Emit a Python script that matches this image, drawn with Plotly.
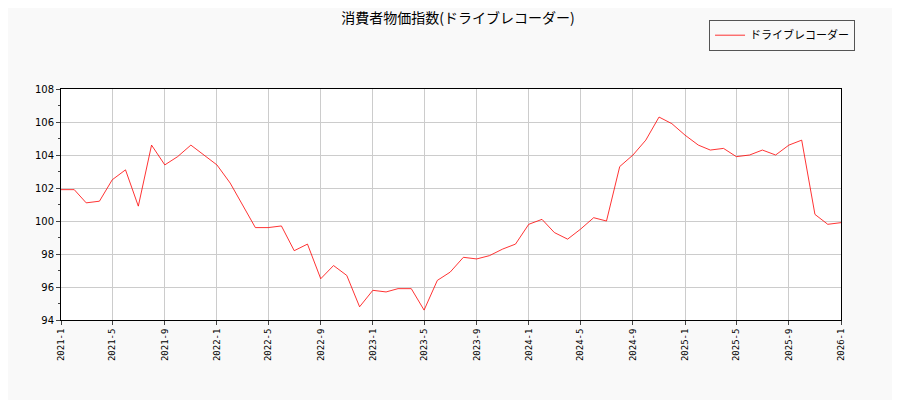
import plotly.graph_objects as go
import pandas as pd

# monthly index values, 2021-1 .. 2026-1
months = pd.date_range("2021-01-01", "2026-01-01", freq="MS")
values = [
    101.9, 101.9, 101.1, 101.2, 102.5, 103.1, 100.9, 104.6, 103.4, 103.9, 104.6, 104.0,
    103.4, 102.3, 101.0, 99.6, 99.6, 99.7, 98.2, 98.6, 96.5, 97.3, 96.7, 94.8,
    95.8, 95.7, 95.9, 95.9, 94.6, 96.4, 96.9, 97.8, 97.7, 97.9, 98.3, 98.6,
    99.8, 100.1, 99.3, 98.9, 99.5, 100.2, 100.0, 103.3, 104.0, 104.9, 106.3, 105.9,
    105.2, 104.6, 104.3, 104.4, 103.9, 104.0, 104.3, 104.0, 104.6, 104.9, 100.4, 99.8,
    99.9,
]
tick_dates = months[::4]
tick_labels = [f"{d.year}-{d.month}" for d in tick_dates]

font = "DejaVu Sans, Noto Sans CJK JP"

fig = go.Figure()
fig.add_trace(
    go.Scatter(
        x=months, y=values, mode="lines", name="ドライブレコーダー",
        line=dict(color="red", width=0.8),
    )
)

fig.update_layout(
    width=900, height=400,
    paper_bgcolor="#f9f9f9", plot_bgcolor="white",
    margin=dict(l=53, r=67, t=72, b=88),
    font=dict(family=font, size=10, color="black"),
    title=dict(text="消費者物価指数(ドライブレコーダー)", x=0.5, y=0.975,
               xanchor="center", yanchor="middle",
               font=dict(size=14, family="Noto Sans CJK JP")),
    showlegend=True,
    legend=dict(x=1.018, y=1.3, xanchor="right", yanchor="top",
                bgcolor="#f9f9f9", bordercolor="#555", borderwidth=1,
                font=dict(size=11, family="Noto Sans CJK JP")),
    xaxis=dict(
        range=[months[0], months[-1]], tickvals=tick_dates, ticktext=tick_labels,
        tickangle=-90, showgrid=True, gridcolor="#cccccc", ticks="outside",
        ticklen=4, showline=True, linecolor="black", mirror=True,
        tickfont=dict(family="DejaVu Sans Mono, DejaVu Sans", size=9),
    ),
    yaxis=dict(
        range=[94, 108], dtick=2, showgrid=True, gridcolor="#cccccc",
        ticks="outside", ticklen=4, showline=True, linecolor="black", mirror=True,
        minor=dict(dtick=1, ticks="outside", ticklen=2, showgrid=False),
    ),
)

fig.write_html("out.html")
